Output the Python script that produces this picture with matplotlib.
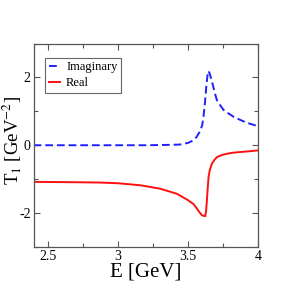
import matplotlib
matplotlib.use("Agg")
import matplotlib.pyplot as plt
from matplotlib.ticker import MultipleLocator

plt.rcParams['font.family'] = ['Liberation Serif', 'DejaVu Serif']
plt.rcParams['mathtext.fontset'] = 'stix'

# Imaginary part (dashed blue)
e_imag = [2.40, 2.70, 3.00, 3.20, 3.35, 3.44, 3.50, 3.53, 3.56, 3.58, 3.60, 3.61,
          3.62, 3.63, 3.64, 3.646, 3.655, 3.67, 3.69, 3.705, 3.73, 3.753, 3.79,
          3.824, 3.87, 3.92, 3.96, 4.00]
t_imag = [0.0, 0.0, 0.0, 0.0, 0.01, 0.02, 0.07, 0.13, 0.24, 0.38, 0.58, 0.85,
          1.25, 1.75, 2.12, 2.19, 2.10, 1.88, 1.55, 1.33, 1.17, 1.04, 0.93,
          0.84, 0.75, 0.66, 0.61, 0.56]

# Real part (solid red)
e_real = [2.40, 2.70, 2.875, 3.00, 3.16, 3.30, 3.42, 3.50, 3.54, 3.56, 3.58, 3.598,
          3.61, 3.622, 3.628, 3.634, 3.64, 3.646, 3.655, 3.67, 3.69, 3.705, 3.74,
          3.776, 3.82, 3.87, 3.93, 4.00]
t_real = [-1.08, -1.09, -1.10, -1.12, -1.18, -1.28, -1.43, -1.62, -1.74, -1.85, -1.97, -2.06,
          -2.08, -2.09, -1.95, -1.62, -1.25, -0.93, -0.72, -0.54, -0.42, -0.35, -0.29,
          -0.25, -0.22, -0.20, -0.18, -0.15]

fig = plt.figure(figsize=(2.91, 2.91), dpi=100)
ax = fig.add_axes([33.6 / 291, 1 - 247 / 291, (258.3 - 33.6) / 291, (247 - 43.5) / 291])

ax.plot(e_imag, t_imag, color='#2020ff', lw=1.4, ls=(0, (4, 2)), label='Imaginary')
ax.plot(e_real, t_real, color='#ff1010', lw=1.4, label='Real')

ax.set_xlim(2.4, 4.0)
ax.set_ylim(-3, 3)
ax.xaxis.set_minor_locator(MultipleLocator(0.25))
ax.yaxis.set_minor_locator(MultipleLocator(1))
ax.set_xticks([2.5, 3, 3.5, 4])
ax.set_xticklabels(['2.5', '3', '3.5', '4'])
ax.set_yticks([-2, 0, 2])
ax.set_yticklabels(['-2', '0', '2'])
ax.tick_params(which='both', direction='in', top=True, right=True,
               labelsize=10, color='#555555', width=0.8, pad=2)
ax.tick_params(which='major', length=4)
ax.tick_params(which='minor', length=3)
for s in ax.spines.values():
    s.set_color('#555555')
    s.set_linewidth(0.9)

ax.set_xlabel('E [GeV]', fontsize=15, labelpad=0)
ax.set_ylabel(r'T$_1$ [GeV$^{-2}$]', fontsize=13.5)
ax.yaxis.set_label_coords(-0.042, 0.526)

leg = ax.legend(loc='upper left', bbox_to_anchor=(0.05, 0.93),
                prop={'family': 'Liberation Serif', 'size': 9},
                fancybox=False, framealpha=1, edgecolor='#666666',
                handlelength=0.9, handletextpad=0.5, borderpad=0.3,
                labelspacing=0.3, borderaxespad=0)
leg.get_frame().set_linewidth(0.8)

fig.savefig('out.png', dpi=100)
